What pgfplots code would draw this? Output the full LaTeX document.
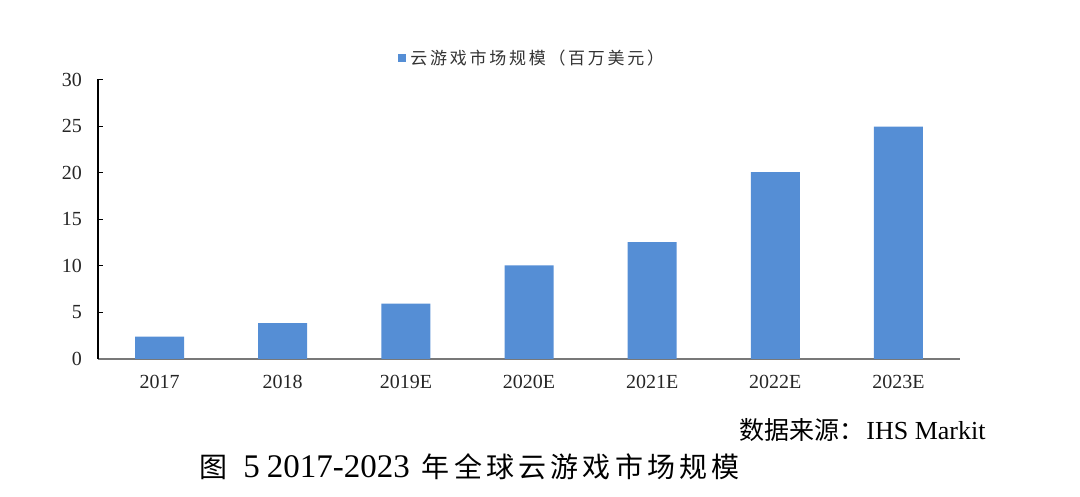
\documentclass[border=0pt]{standalone}
\usepackage{fontspec}
\setmainfont{Liberation Serif}
\newfontfamily\cjk{Noto Sans CJK SC}
\newfontfamily\cjkwide{Noto Sans CJK SC}[LetterSpace=16]
\newfontfamily\cjkcap{Noto Sans CJK SC}[LetterSpace=15]
\usepackage{pgfplots}
\pgfplotsset{compat=1.18}
\definecolor{barblue}{RGB}{85,142,213}
\definecolor{axisgray}{RGB}{120,120,120}
\pgfplotstableread{
x y
0 2.40
1 3.85
2 5.95
3 10.05
4 12.55
5 20.05
6 24.95
}\marketdata
\begin{document}
\begin{tikzpicture}[x=1pt,y=1pt]
\useasboundingbox (0,0) rectangle (540,248.5);
\begin{axis}[
  at={(49pt,69pt)}, anchor=south west,
  scale only axis, width=431pt, height=139.75pt,
  xmin=-0.5, xmax=6.5, ymin=0, ymax=30,
  axis x line*=bottom, axis y line*=left,
  x axis line style={draw=axisgray, line width=0.7pt},
  y axis line style={draw=black, line width=0.6pt},
  tick align=inside,
  major tick length=2.5pt,
  ytick={0,5,...,30},
  y tick style={black, line width=0.5pt},
  xtick={0,...,6},
  xticklabels={2017,2018,2019E,2020E,2021E,2022E,2023E},
  x tick style={draw=none},
  extra x ticks={0.5,1.5,2.5,3.5,4.5,5.5,6.5},
  extra x tick labels={},
  extra x tick style={tick style={draw=black, line width=0.5pt}, major tick length=2.5pt},
  /pgf/number format/assume math mode=true,
  tick label style={font=\fontsize{10}{12}\selectfont, text=black!85},
  yticklabel style={xshift=-4.5pt},
  xticklabel style={yshift=-2pt},
  ybar, bar width=24.5pt,
  legend style={at={(0.505,1.076)}, anchor=center, draw=none, fill=none,
    font=\cjkwide\fontsize{8.5}{10}\selectfont, inner sep=0pt, text=black!80},
  legend image code/.code={\fill[barblue] (0pt,-2pt) rectangle (4pt,2pt);},
]
\addplot[fill=barblue, draw=none] table[x=x, y=y] {\marketdata};
\addlegendentry{云游戏市场规模（百万美元）}
\end{axis}
\node[anchor=east, inner sep=0pt] at (493,33.5)
  {{\cjk\fontsize{12.5}{14}\selectfont 数据来源：}\hspace{1pt}{\fontsize{13}{15}\selectfont IHS Markit}};
\node[anchor=west, inner sep=0pt] at (99.5,15)
  {{\cjk\fontsize{14}{16}\selectfont 图}\hspace{8pt}{\fontsize{16.5}{18}\selectfont 5\hspace{3.5pt}2017-2023}\hspace{6pt}{\cjkcap\fontsize{14}{16}\selectfont 年全球云游戏市场规模}};
\end{tikzpicture}
\end{document}
